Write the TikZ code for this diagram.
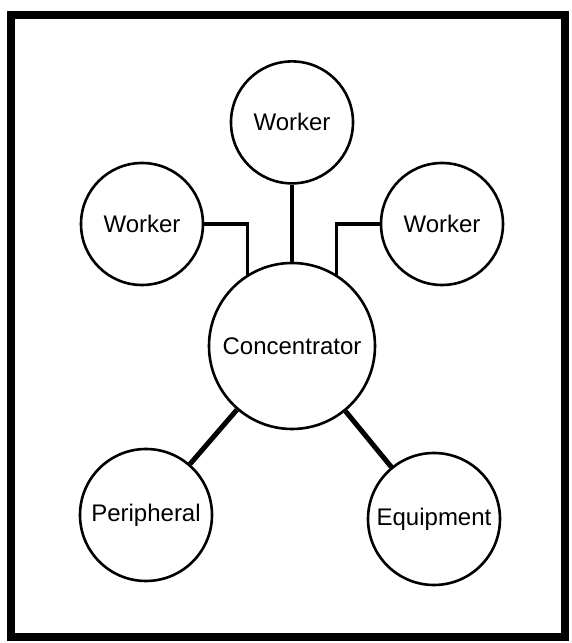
\documentclass[tikz,border=0pt]{standalone}
\usepackage{fontspec}
\setmainfont{Liberation Sans}
\usetikzlibrary{positioning}
\tikzset{
	unitnode/.style={circle, draw=black, line width=1.3pt, minimum size=61pt,
		inner sep=0pt, font=\fontsize{12}{14}\selectfont},
	linkline/.style={line width=2pt},
	frameline/.style={line width=4pt}
}

\begin{document}
\begin{tikzpicture}[node distance=38.5pt, x=1pt, y=1pt]
	\useasboundingbox (0,0) rectangle (286,321.5);
	\draw[frameline] (5.5,2.75) rectangle (282.25,313.8);
	\node[unitnode, minimum size=83pt] (conc) at (146,148.5) {Concentrator};
	\node[unitnode, above=of conc] (wtop) {Worker};
	\node[unitnode] (wleft) at (71,209.5) {Worker};
	\node[unitnode] (wright) at (221,209.5) {Worker};
	\node[unitnode, minimum size=66pt] (peri) at (73,64) {Peripheral};
	\node[unitnode, minimum size=66pt] (equip) at (217,62) {Equipment};
	\draw[linkline] (wtop) -- (conc);
	\draw[linkline, line width=1.75pt] (wleft.east) -| (conc.122);
	\draw[linkline, line width=1.75pt] (wright.west) -| (conc.58);
	\draw[linkline, line width=2.5pt] (conc) -- (peri);
	\draw[linkline, line width=2.5pt] (conc) -- (equip);
\end{tikzpicture}
\end{document}
